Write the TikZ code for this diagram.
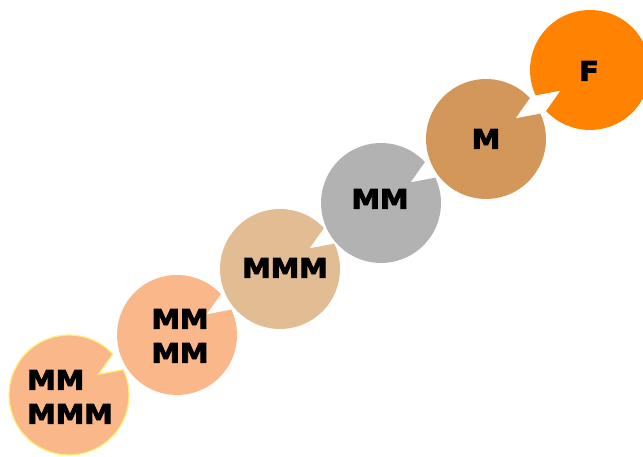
\documentclass[tikz,border=0pt]{standalone}
\usepackage{fontspec}
\newfontfamily\heavy{DejaVu Sans}[FakeBold=3]
\usetikzlibrary{calc}
\definecolor{peach}{HTML}{FAB78A}
\definecolor{tan}{HTML}{E2BC93}
\definecolor{greyc}{HTML}{B2B2B2}
\definecolor{brownc}{HTML}{D4975A}
\definecolor{orangec}{HTML}{FF8200}
\definecolor{rimyellow}{HTML}{FFF275}
\tikzset{
  label/.style={font=\heavy\bfseries\fontsize{27}{34}\selectfont, align=left, inner sep=0pt, xscale=1.06, transform shape},
}
\newcommand{\pacshape}[4]{% center, rotation, fill options
  \path[#3] ($(#1)+(43+#2:60)$) arc[start angle=43+#2, end angle=385+#2, radius=60] -- ($(#1)+(35+#2:36)$) -- cycle;
}
\begin{document}
\begin{tikzpicture}[x=1pt,y=1pt]
\useasboundingbox (0,0) rectangle (643,457);
\coordinate (c1) at (69,62);
\coordinate (c2) at (177,122);
\coordinate (c3) at (280,188);
\coordinate (c4) at (381,254);
\coordinate (c5) at (486,318);
\coordinate (c6) at (590,387);
\pacshape{c1}{0}{fill=peach, draw=rimyellow, line width=1.2pt}{}
\pacshape{c2}{0}{fill=peach}{}
\pacshape{c3}{0}{fill=tan}{}
\pacshape{c4}{0}{fill=greyc}{}
\pacshape{c5}{0}{fill=brownc}{}
\pacshape{c6}{180}{fill=orangec}{}
\node[label] (t1) at ($(c1)+(1,-2)$) {MM\\MMM};
\node[label] (t2) at ($(c2)+(3,-1)$) {MM\\MM};
\node[label] (t3) at ($(c3)+(5,1)$) {MMM};
\node[label] (t4) at ($(c4)+(-1,4)$) {MM};
\node[label] (t5) at ($(c5)+(0,0)$) {M};
\node[label] (t6) at ($(c6)+(-1,-1)$) {F};
\end{tikzpicture}
\end{document}
